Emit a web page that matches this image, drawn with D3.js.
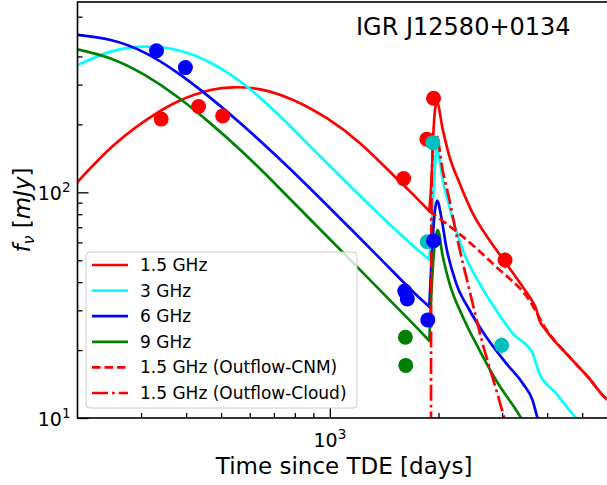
<!DOCTYPE html>
<html><head><meta charset="utf-8">
<script src="https://cdn.jsdelivr.net/npm/d3@7"></script>
<style>body{margin:0;background:#fff}svg{display:block}text{font-family:"DejaVu Sans",sans-serif;fill:#000}</style>
</head><body><svg id="c" width="607" height="485"></svg>
<script>
// ---------- data ----------
const xMajorTicks = [1000];
const xMinorTicks = [300,400,500,600,700,800,900,2000,3000,4000,5000];
const yMajorTicks = [10,100];
const yMinorTicks = [20,30,40,50,60,70,80,90,200,300,400,500,600];

// observed points (days, mJy, error)
const obs15T = [341,433,505,1601,1857,1938,3058];
const obs15F = [211,240,218,115,172,261,50.1];
const obs15E = [0,0,0,0,0,0,4];
const obs3T = [1862,1929,2992];
const obs3F = [60.4,166,21.0];
const obs3E = [0,0,1.7];
const obs6T = [331,398,1612,1639,1868,1938];
const obs6F = [424,357,36.5,33.7,27.2,61];
const obs6E = [0,0,0,0,0,0];
const obs9T = [1619,1623];
const obs9F = [22.8,17.1];
const obs9E = [0,0];

// model curves [days, mJy]
const model15 = [[200,111],[247,157],[306,206],[378,252],[467,284],[542,292],[642,286],[794,256],[981,213],[1213,165],[1500,119],[1667,101],[1886,82.5],[1913,113],[1938,189],[1963,241],[1982,249],[2056,189],[2145,144],[2286,110],[2488,80.7],[2767,61.5],[3077,48.5],[3420,38.2],[3643,32.8],[3724,30.6],[3803,27.2],[3968,24.5],[4603,18.7],[5226,15.0],[5824,12.2],[6000,11.8]];
const model3 = [[200,366],[247,420],[306,442],[378,427],[467,375],[578,301],[714,224],[882,160],[1091,114],[1349,81.8],[1667,59.6],[1886,50.4],[1913,68],[1950,120],[1978,157],[2056,113],[2145,86.3],[2335,55.5],[2597,39.5],[2887,30.1],[3209,23.7],[3643,19.4],[3724,17.5],[3803,15.8],[4229,12.9],[4802,10.0],[5100,9]];
const model6 = [[200,498],[247,473],[306,417],[378,339],[467,262],[578,196],[714,144],[882,104],[1091,74.1],[1349,52.7],[1667,37.4],[1886,31.1],[1913,50.1],[1950,80],[1982,92],[2035,78],[2101,57.4],[2239,39.5],[2436,30.1],[2710,22.9],[3077,17.5],[3420,14.25],[3643,12.0],[3762,10.0],[3850,9]];
const model9 = [[200,430],[247,392],[306,332],[378,265],[467,202],[578,149],[714,107],[882,76.0],[1091,53.8],[1349,38.1],[1667,27.0],[1886,22.0],[1913,36.9],[1950,58],[1990,68],[2056,51.8],[2145,39.5],[2335,28.1],[2597,20.0],[2887,14.7],[3349,10.3],[3450,9.5]];
const modelCNM = [[1886,82.5],[2335,63.6],[2887,46.8],[3567,33.3],[3968,24.8],[4603,18.7],[5226,15.0],[5824,12.2],[6000,11.8]];
const modelCloud = [[1906,4],[1908,30],[1912,90],[1925,145],[1950,175],[1975,178],[2052,126],[2145,92.4],[2243,64.7],[2436,36.9],[2647,21.5],[2892,13.3],[3044,10],[3150,8.5]];

const legendLabels = ["1.5 GHz","3 GHz","6 GHz","9 GHz","1.5 GHz (Outflow-CNM)","1.5 GHz (Outflow-Cloud)"];

// ---------- drawing ----------
const svg = d3.select('#c');
const L = 77.5, T = 2, B = 418;
const x = d3.scaleLog().domain([200,6000]).range([L, L + 361*Math.log10(30)]);
const y = d3.scaleLog().domain([10,697]).range([B, T]);
const R = x(6000);

svg.append('defs').append('clipPath').attr('id','clip')
  .append('rect').attr('x',L).attr('y',T).attr('width',R-L).attr('height',B-T);

const LW = 2.7;
const lineNat = d3.line().x(d=>x(d[0])).y(d=>y(d[1])).curve(d3.curveNatural);
const lineMono = d3.line().x(d=>x(d[0])).y(d=>y(d[1])).curve(d3.curveMonotoneX);
const plot = svg.append('g').attr('clip-path','url(#clip)');

const curves = [
  {d:model15, c:'#ff0000', dash:null, split:true},
  {d:model3, c:'#00ffff', dash:null, split:true},
  {d:model6, c:'#0000ff', dash:null, split:true},
  {d:model9, c:'#008000', dash:null, split:true},
  {d:modelCNM, c:'#ff0000', dash:'8.5,4', split:false},
  {d:modelCloud, c:'#ff0000', dash:'16,4,2.7,4', split:false}
];
curves.forEach(s=>{
  let pieces;
  if (s.split) {
    const k = s.d.findIndex(p=>p[0]===1886);
    pieces = [[s.d.slice(0,k+1), lineNat],[s.d.slice(k), lineMono]];
  } else pieces = [[s.d, lineMono]];
  pieces.forEach(([pts,gen])=>{
    plot.append('path').datum(pts).attr('d',gen).attr('fill','none')
      .attr('stroke',s.c).attr('stroke-width',LW)
      .attr('stroke-dasharray',s.dash).attr('stroke-linejoin','round').attr('stroke-linecap', s.dash ? 'butt' : 'round');
  });
});

const obsSets = [
  {t:obs15T,f:obs15F,e:obs15E,c:'#ff0000'},
  {t:obs3T,f:obs3F,e:obs3E,c:'#00bfbf'},
  {t:obs6T,f:obs6F,e:obs6E,c:'#0000ff'},
  {t:obs9T,f:obs9F,e:obs9E,c:'#008000'}
];
obsSets.forEach(s=>{
  const pts = s.t.map((t,i)=>({t, f:s.f[i], e:s.e[i]}));
  plot.selectAll(null).data(pts.filter(p=>p.e>0)).enter().append('line')
    .attr('x1',p=>x(p.t)).attr('x2',p=>x(p.t))
    .attr('y1',p=>y(p.f+p.e)).attr('y2',p=>y(p.f-p.e))
    .attr('stroke',s.c).attr('stroke-width',1.5);
  plot.selectAll(null).data(pts).enter().append('circle')
    .attr('cx',p=>x(p.t)).attr('cy',p=>y(p.f)).attr('r',7.5).attr('fill',s.c);
});

// axes ticks
function clean(g){ g.select('.domain').remove(); g.selectAll('line').attr('stroke','#000').attr('stroke-width',1.3); }
svg.append('g').attr('transform',`translate(0,${B})`)
  .call(d3.axisBottom(x).tickValues(xMinorTicks).tickSize(-5).tickFormat('')).call(clean);
svg.append('g').attr('transform',`translate(0,${B})`)
  .call(d3.axisBottom(x).tickValues(xMajorTicks).tickSize(-10).tickFormat('')).call(clean);
svg.append('g').attr('transform',`translate(${L},0)`)
  .call(d3.axisLeft(y).tickValues(yMinorTicks).tickSize(-5).tickFormat('')).call(clean);
svg.append('g').attr('transform',`translate(${L},0)`)
  .call(d3.axisLeft(y).tickValues(yMajorTicks).tickSize(-11).tickFormat('')).call(clean);

// tick labels
xMajorTicks.forEach(v=>{
  const t = svg.append('text').attr('x',x(v)).attr('y',446.5).attr('text-anchor','middle').style('font-size','19px');
  t.append('tspan').text('10');
  t.append('tspan').attr('dy',-8).style('font-size','13.5px').text(String(Math.round(Math.log10(v))));
});
yMajorTicks.forEach(v=>{
  const t = svg.append('text').attr('x',70.5).attr('y',y(v)+7.5).attr('text-anchor','end').style('font-size','19px');
  t.append('tspan').text('10');
  t.append('tspan').attr('dy',-8).style('font-size','13.5px').text(String(Math.round(Math.log10(v))));
});

// frame
svg.append('rect').attr('x',L).attr('y',T).attr('width',R-L).attr('height',B-T)
  .attr('fill','none').attr('stroke','#000').attr('stroke-width',1.6);

// axis labels
svg.append('text').attr('x',(L+R)/2).attr('y',473.5).attr('text-anchor','middle')
  .style('font-size','23px').text('Time since TDE [days]');
const yl = svg.append('text').attr('transform',`translate(30,${(T+B)/2}) rotate(-90)`)
  .attr('text-anchor','middle').style('font-size','23px');
yl.append('tspan').style('font-style','italic').text('f');
yl.append('tspan').style('font-style','italic').style('font-size','16px').attr('dy',4).text('\u03bd');
yl.append('tspan').attr('dy',-4).text(' [');
yl.append('tspan').style('font-style','italic').text('mJy');
yl.append('tspan').text(']');

// title
svg.append('text').attr('x',356).attr('y',35).style('font-size','24px').text('IGR J12580+0134');

// legend
const lg = svg.append('g');
lg.append('rect').attr('x',86).attr('y',252).attr('width',271).attr('height',156).attr('rx',4)
  .attr('fill','#fff').attr('fill-opacity',0.8).attr('stroke','#cccccc').attr('stroke-width',1);
legendLabels.forEach((lab,i)=>{
  const yy = 265 + i*25.6;
  lg.append('line').attr('x1',92).attr('x2',128).attr('y1',yy).attr('y2',yy)
    .attr('stroke',curves[i].c).attr('stroke-width',LW).attr('stroke-dasharray',curves[i].dash);
  lg.append('text').attr('x',140).attr('y',yy+6).style('font-size','17px').text(lab);
});
</script></body></html>
